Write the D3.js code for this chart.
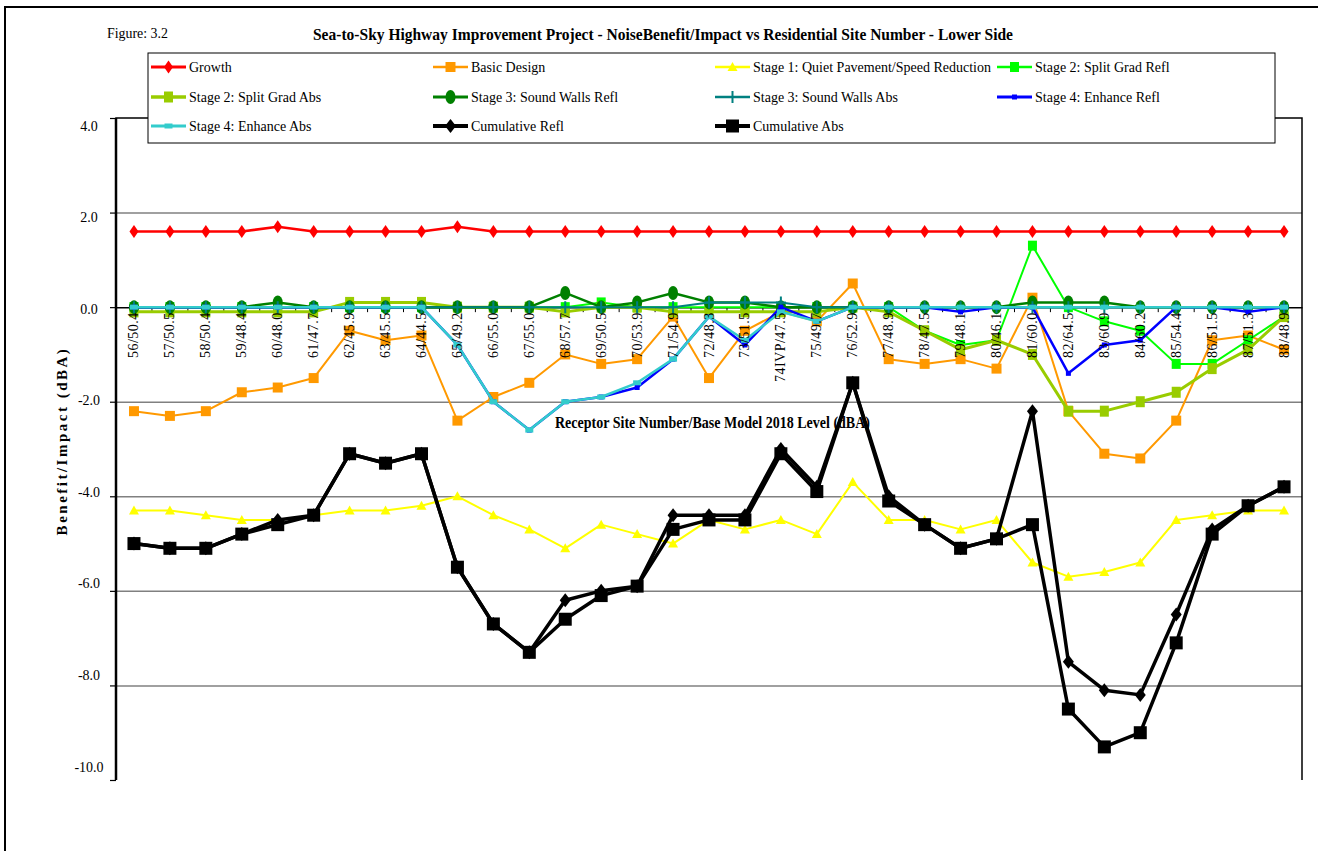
<!DOCTYPE html>
<html><head><meta charset="utf-8">
<script src="https://cdn.jsdelivr.net/npm/d3@7"></script>
<style>
html,body{margin:0;padding:0;background:#fff;}
svg{display:block;font-family:"Liberation Serif","Times New Roman",serif;}
</style></head>
<body><svg id="c" width="1318" height="851"></svg>
<script>
const categories = ["56/50.4","57/50.5","58/50.4","59/48.4","60/48.0","61/47.7","62/45.9","63/45.5","64/44.5","65/49.2","66/55.0","67/55.0","68/57.7","69/50.5","70/53.9","71/54.9","72/48.3","73/51.5","74IVP/47.5","75/49.7","76/52.9","77/48.9","78/47.5","79/48.1","80/46.1","81/60.0","82/64.5","83/60.9","84/60.2","85/54.4","86/51.5","87/51.3","88/48.9"];
const growth      = [1.6,1.6,1.6,1.6,1.7,1.6,1.6,1.6,1.6,1.7,1.6,1.6,1.6,1.6,1.6,1.6,1.6,1.6,1.6,1.6,1.6,1.6,1.6,1.6,1.6,1.6,1.6,1.6,1.6,1.6,1.6,1.6,1.6];
const basicDesign = [-2.2,-2.3,-2.2,-1.8,-1.7,-1.5,-0.5,-0.7,-0.6,-2.4,-1.9,-1.6,-1.0,-1.2,-1.1,-0.2,-1.5,-0.5,-0.1,-0.3,0.5,-1.1,-1.2,-1.1,-1.3,0.2,-2.2,-3.1,-3.2,-2.4,-0.7,-0.6,-0.9];
const stage1      = [-4.3,-4.3,-4.4,-4.5,-4.5,-4.4,-4.3,-4.3,-4.2,-4.0,-4.4,-4.7,-5.1,-4.6,-4.8,-5.0,-4.5,-4.7,-4.5,-4.8,-3.7,-4.5,-4.5,-4.7,-4.5,-5.4,-5.7,-5.6,-5.4,-4.5,-4.4,-4.3,-4.3];
const stage2Refl  = [0,0,0,0,0,0,0,0,0,0,0,0,0,0.1,0,0,0,0,0,0,0,0,-0.5,-0.8,-0.7,1.3,0,-0.3,-0.5,-1.2,-1.2,-0.7,-0.2];
const stage2Abs   = [-0.1,-0.1,-0.1,-0.1,-0.1,-0.1,0.1,0.1,0.1,0,0,0,-0.1,0,0,-0.1,-0.1,-0.1,-0.1,-0.1,0,-0.1,-0.5,-0.9,-0.7,-1.0,-2.2,-2.2,-2.0,-1.8,-1.3,-0.9,-0.2];
const stage3Refl  = [0,0,0,0,0.1,0,0,0,0,0,0,0,0.3,0,0.1,0.3,0.1,0.1,0,0,0,0,0,0,0,0.1,0.1,0.1,0,0,0,0,0];
const stage3Abs   = [0,0,0,0,0,0,0,0,0,0,0,0,0,0,0,0,0.1,0.1,0.1,0,0,0,0,0,0,0,0,0,0,0,0,0,0];
const stage4Refl  = [0,0,0,0,0,0,0,0,0,-0.8,-2.0,-2.6,-2.0,-1.9,-1.7,-1.1,-0.2,-0.8,0,-0.3,0,0,0,-0.1,0,0,-1.4,-0.8,-0.7,0,0,-0.1,0];
const stage4Abs   = [0,0,0,0,0,0,0,0,0,-0.8,-2.0,-2.6,-2.0,-1.9,-1.6,-1.1,-0.2,-0.7,-0.1,-0.3,0,0,0,0,0,0,0,0,0,0,0,0,0];
const cumRefl     = [-5.0,-5.1,-5.1,-4.8,-4.5,-4.4,-3.1,-3.3,-3.1,-5.5,-6.7,-7.3,-6.2,-6.0,-5.9,-4.4,-4.4,-4.4,-3.0,-3.8,-1.6,-4.0,-4.6,-5.1,-4.9,-2.2,-7.5,-8.1,-8.2,-6.5,-4.7,-4.2,-3.8];
const cumAbs      = [-5.0,-5.1,-5.1,-4.8,-4.6,-4.4,-3.1,-3.3,-3.1,-5.5,-6.7,-7.3,-6.6,-6.1,-5.9,-4.7,-4.5,-4.5,-3.1,-3.9,-1.6,-4.1,-4.6,-5.1,-4.9,-4.6,-8.5,-9.3,-9.0,-7.1,-4.8,-4.2,-3.8];
const yTicks = [4,2,0,-2,-4,-6,-8,-10];
const yTickLabels = ["4.0","2.0","0.0","-2.0","-4.0","-6.0","-8.0","-10.0"];

const series = [
  {name:"Growth", values:growth, color:"#FF0000", lw:2.5, marker:"diamond", mw:4.5, mh:6.5},
  {name:"Basic Design", values:basicDesign, color:"#FF9900", lw:2, marker:"square", mw:5, mh:5},
  {name:"Stage 1: Quiet Pavement/Speed Reduction", values:stage1, color:"#FFFF00", lw:2, marker:"triangle", mw:5, mh:5},
  {name:"Stage 2: Split Grad Refl", values:stage2Refl, color:"#00FF00", lw:2, marker:"square", mw:4.5, mh:5},
  {name:"Stage 2: Split Grad Abs", values:stage2Abs, color:"#99CC00", lw:3, marker:"square", mw:4.5, mh:5.5},
  {name:"Stage 3: Sound Walls Refl", values:stage3Refl, color:"#008000", lw:2.5, marker:"ellipse", mw:5, mh:7},
  {name:"Stage 3: Sound Walls Abs", values:stage3Abs, color:"#008080", lw:2, marker:"plus", mw:5, mh:6},
  {name:"Stage 4: Enhance Refl", values:stage4Refl, color:"#0000FF", lw:2.5, marker:"square", mw:2.5, mh:2.5},
  {name:"Stage 4: Enhance Abs", values:stage4Abs, color:"#33CCCC", lw:2.5, marker:"square", mw:4, mh:2.5},
  {name:"Cumulative Refl", values:cumRefl, color:"#000000", lw:3.5, marker:"diamond", mw:5.5, mh:7},
  {name:"Cumulative Abs", values:cumAbs, color:"#000000", lw:3.5, marker:"square", mw:6.5, mh:6.5}
];

const svg = d3.select("#c");
const L=116, R=1302, T=118, B=780;
const x = d3.scaleBand().domain(categories).range([L,R]);
const y = d3.scaleLinear().domain([-10,4]).range([B,T]);
const yLab = d3.scaleLinear().domain([-10,4]).range([767,126]);
const cx = c => x(c) + x.bandwidth()/2;

// outer frame
svg.append("path").attr("d","M5,851 L5,7 L1318,7").attr("fill","none").attr("stroke","#000").attr("stroke-width",2);

// gridlines
const grid = svg.append("g").attr("transform",`translate(${L},0)`)
  .call(d3.axisLeft(y).tickValues([2,-2,-4,-6,-8]).tickSize(-(R-L)).tickFormat(""));
grid.select(".domain").remove();
grid.selectAll("line").attr("stroke","#808080").attr("stroke-width",1.5);

// left tick marks
const lt = svg.append("g").attr("transform",`translate(${L},0)`)
  .call(d3.axisLeft(y).tickValues(yTicks).tickSize(6).tickFormat(""));
lt.select(".domain").remove();
lt.selectAll("line").attr("stroke","#000").attr("stroke-width",1.2);

// plot frame: top, left, right
svg.append("path").attr("d",`M${L},${B} L${L},${T} L${R},${T} L${R},${B}`).attr("fill","none").attr("stroke","#000").attr("stroke-width",1.5);
svg.append("line").attr("x1",L).attr("x2",L).attr("y1",T).attr("y2",B).attr("stroke","#000").attr("stroke-width",2.5);

// y labels
svg.append("g").selectAll("text").data(yTicks).join("text")
  .attr("x",89).attr("y",d=>yLab(d)).attr("text-anchor","middle").attr("dominant-baseline","central")
  .attr("font-size",14).text((d,i)=>yTickLabels[i]);

// x axis line at 0 with minor ticks
const y0 = y(0);
const xa = svg.append("g").attr("transform",`translate(0,${y0})`)
  .call(d3.axisBottom(x).tickSize(0).tickFormat(""));
xa.select(".domain").attr("stroke","#000").attr("stroke-width",1.5);
svg.append("g").selectAll("line").data(categories.slice(1)).join("line")
  .attr("x1",d=>x(d)).attr("x2",d=>x(d)).attr("y1",y0).attr("y2",y0+5)
  .attr("stroke","#000").attr("stroke-width",1);

// marker path
function markerPath(type,w,h){
  switch(type){
    case "diamond": return `M0,${-h}L${w},0L0,${h}L${-w},0Z`;
    case "square": return `M${-w},${-h}H${w}V${h}H${-w}Z`;
    case "triangle": return `M0,${-h}L${w},${h*0.8}L${-w},${h*0.8}Z`;
    case "plus": return `M${-w},0H${w}M0,${-h}V${h}`;
  }
}
function drawMarker(g,s,px,py){
  if(s.marker==="ellipse"){
    g.append("ellipse").attr("cx",px).attr("cy",py).attr("rx",s.mw).attr("ry",s.mh).attr("fill",s.color);
  } else if(s.marker==="plus"){
    g.append("path").attr("transform",`translate(${px},${py})`).attr("d",markerPath("plus",s.mw,s.mh))
      .attr("stroke",s.color).attr("stroke-width",2).attr("fill","none");
  } else {
    g.append("path").attr("transform",`translate(${px},${py})`).attr("d",markerPath(s.marker,s.mw,s.mh)).attr("fill",s.color);
  }
}

// series
const line = d3.line().x((d,i)=>cx(categories[i])).y(d=>y(d));
series.forEach(s=>{
  const g = svg.append("g");
  g.append("path").attr("d",line(s.values)).attr("fill","none").attr("stroke",s.color)
    .attr("stroke-width",s.lw).attr("stroke-linejoin","round");
  s.values.forEach((v,i)=>drawMarker(g,s,cx(categories[i]),y(v)));
});

// x labels (rotated) drawn on top of the series
svg.append("g").selectAll("text").data(categories).join("text")
  .attr("transform",d=>`translate(${cx(d)},${y0+5}) rotate(-90)`)
  .attr("text-anchor","end").attr("dominant-baseline","central")
  .attr("font-size",14).attr("letter-spacing",0.5).text(d=>d);

// legend
const lg = svg.append("g");
lg.append("rect").attr("x",148).attr("y",53).attr("width",1127).attr("height",90)
  .attr("fill","#fff").attr("stroke","#000").attr("stroke-width",1);
const colX=[151,433,715,997], rowY=[67,97,126];
series.forEach((s,i)=>{
  const c=i%4, r=Math.floor(i/4);
  const x0=colX[c], yy=rowY[r];
  lg.append("line").attr("x1",x0).attr("x2",x0+35).attr("y1",yy).attr("y2",yy)
    .attr("stroke",s.color).attr("stroke-width",s.lw+0.5);
  drawMarker(lg,s,x0+17.5,yy);
  lg.append("text").attr("x",x0+38).attr("y",yy).attr("dominant-baseline","central")
    .attr("font-size",14).text(s.name);
});

// titles
svg.append("text").attr("x",107).attr("y",33).attr("font-size",14).attr("dominant-baseline","central")
  .attr("textLength",61).attr("lengthAdjust","spacingAndGlyphs").text("Figure: 3.2");
svg.append("text").attr("x",313).attr("y",34).attr("font-size",16.5).attr("font-weight","bold")
  .attr("dominant-baseline","central").attr("textLength",700).attr("lengthAdjust","spacingAndGlyphs")
  .text("Sea-to-Sky Highway Improvement Project - NoiseBenefit/Impact vs Residential Site Number - Lower Side");
svg.append("text").attr("x",555).attr("y",422).attr("font-size",16).attr("font-weight","bold")
  .attr("dominant-baseline","central").attr("textLength",315).attr("lengthAdjust","spacingAndGlyphs")
  .text("Receptor Site Number/Base Model 2018 Level (dBA)");
svg.append("text").attr("transform","translate(62,441) rotate(-90)").attr("text-anchor","middle")
  .attr("dominant-baseline","central").attr("font-size",15).attr("font-weight","bold").attr("letter-spacing",2.5)
  .text("Benefit/Impact (dBA)");
</script></body></html>
